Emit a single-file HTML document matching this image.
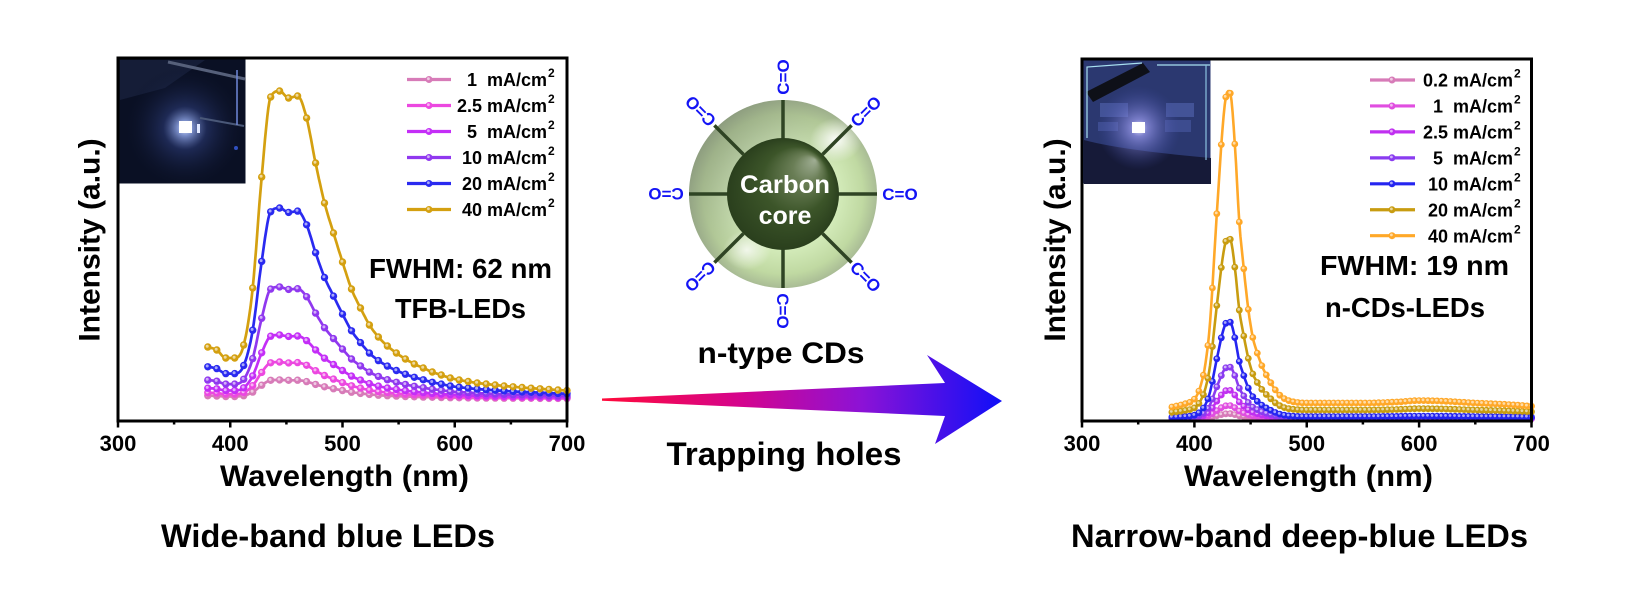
<!DOCTYPE html>
<html><head><meta charset="utf-8">
<style>
html,body{margin:0;padding:0;background:#fff;}
svg{display:block;}
text{font-family:"Liberation Sans",Arial,sans-serif;font-weight:bold;}
.pre{white-space:pre;}
</style></head><body>
<svg id="s" xmlns="http://www.w3.org/2000/svg" width="1627" height="610" viewBox="0 0 1627 610">
<defs>
 <linearGradient id="arr" x1="602" y1="0" x2="1002" y2="0" gradientUnits="userSpaceOnUse">
  <stop offset="0" stop-color="#ff0a3a"/>
  <stop offset="0.35" stop-color="#d4048e"/>
  <stop offset="0.65" stop-color="#8c12d6"/>
  <stop offset="1" stop-color="#0f0ff8"/>
 </linearGradient>
 <radialGradient id="shell" cx="783" cy="194" r="94" gradientUnits="userSpaceOnUse">
  <stop offset="0" stop-color="#dcefc6"/>
  <stop offset="0.6" stop-color="#d2eab8"/>
  <stop offset="0.85" stop-color="#c0d9a2"/>
  <stop offset="1" stop-color="#a9bc95"/>
 </radialGradient>
 <linearGradient id="shade" x1="690" y1="110" x2="800" y2="210" gradientUnits="userSpaceOnUse">
  <stop offset="0" stop-color="#6e7a66" stop-opacity="0.6"/>
  <stop offset="1" stop-color="#6e7a66" stop-opacity="0"/>
 </linearGradient>
 <radialGradient id="hl" cx="0.5" cy="0.5" r="0.5">
  <stop offset="0" stop-color="#ffffff" stop-opacity="0.95"/>
  <stop offset="1" stop-color="#ffffff" stop-opacity="0"/>
 </radialGradient>
 <radialGradient id="core" cx="783" cy="194" r="56" fx="815" fy="160" gradientUnits="userSpaceOnUse">
  <stop offset="0" stop-color="#a0ae94"/>
  <stop offset="0.25" stop-color="#6a7e56"/>
  <stop offset="0.6" stop-color="#3c5529"/>
  <stop offset="1" stop-color="#2a3f1d"/>
 </radialGradient>
 <radialGradient id="lg1" cx="185" cy="128" r="62" gradientUnits="userSpaceOnUse">
  <stop offset="0" stop-color="#e6eeff" stop-opacity="1"/>
  <stop offset="0.12" stop-color="#8ea4e6" stop-opacity="0.85"/>
  <stop offset="0.35" stop-color="#2e3e7c" stop-opacity="0.55"/>
  <stop offset="1" stop-color="#0a1024" stop-opacity="0"/>
 </radialGradient>
 <radialGradient id="lg2" cx="1139" cy="128" r="42" gradientUnits="userSpaceOnUse">
  <stop offset="0" stop-color="#f0f0ff" stop-opacity="1"/>
  <stop offset="0.2" stop-color="#9c9cf0" stop-opacity="0.7"/>
  <stop offset="1" stop-color="#3a46a0" stop-opacity="0"/>
 </radialGradient>
</defs>
<rect x="0" y="0" width="1627" height="610" fill="#fff"/>

<!-- Left photo -->
<rect x="119.5" y="59.5" width="126" height="124" fill="#0a1024"/>
<polygon points="120,60 205,60 165,88 120,100" fill="#1a2440" opacity="0.7"/>
<rect x="119.5" y="59.5" width="126" height="124" fill="url(#lg1)"/>
<line x1="168" y1="62" x2="245" y2="79" stroke="#56607a" stroke-width="3"/>
<line x1="200" y1="118" x2="244" y2="126" stroke="#4a5878" stroke-width="2"/>
<line x1="237" y1="70" x2="237" y2="125" stroke="#7088d8" stroke-width="1.5"/>
<circle cx="236" cy="148" r="2" fill="#3050c0"/>
<rect x="179" y="121" width="13" height="12" fill="#ffffff"/>
<rect x="197" y="124" width="3" height="9" fill="#e0e8ff"/>

<!-- Right photo -->
<rect x="1083.5" y="60.5" width="127" height="123" fill="#2b3870"/>
<rect x="1100" y="103" width="28" height="14" fill="#4e5fa8" opacity="0.7"/>
<rect x="1166" y="103" width="28" height="14" fill="#4e5fa8" opacity="0.7"/>
<rect x="1098" y="122" width="20" height="9" fill="#46569c" opacity="0.7"/>
<rect x="1165" y="120" width="26" height="12" fill="#46569c" opacity="0.7"/>
<path d="M1084,140 Q1120,150 1211,158 L1211,184 L1084,184 Z" fill="#161a38"/>
<polygon points="1086,92 1093,102 1150,72 1143,63" fill="#0e1018"/>
<polyline points="1087,138 1087,67 1142,63" stroke="#a8e0f0" stroke-width="1.2" fill="none"/>
<line x1="1157" y1="65" x2="1210" y2="65" stroke="#a8e0f0" stroke-width="1.2"/>
<line x1="1206" y1="65" x2="1206" y2="160" stroke="#8cc0e0" stroke-width="1.2"/>
<rect x="1083.5" y="60.5" width="127" height="123" fill="url(#lg2)"/>
<rect x="1132" y="122" width="13" height="11" fill="#ffffff"/>

<g id="curves"></g>

<!-- Axes frames -->
<rect x="118" y="58" width="449" height="363" fill="none" stroke="#000" stroke-width="3"/>
<rect x="1082" y="59" width="449.5" height="362" fill="none" stroke="#000" stroke-width="3"/>
<g stroke="#000" stroke-width="2.5">
 <line x1="118" y1="421" x2="118" y2="427.5"/>
 <line x1="174.1" y1="421" x2="174.1" y2="424.5"/>
 <line x1="230.25" y1="421" x2="230.25" y2="427.5"/>
 <line x1="286.4" y1="421" x2="286.4" y2="424.5"/>
 <line x1="342.5" y1="421" x2="342.5" y2="427.5"/>
 <line x1="398.6" y1="421" x2="398.6" y2="424.5"/>
 <line x1="454.75" y1="421" x2="454.75" y2="427.5"/>
 <line x1="510.9" y1="421" x2="510.9" y2="424.5"/>
 <line x1="567" y1="421" x2="567" y2="427.5"/>
 <line x1="1082" y1="421" x2="1082" y2="427.5"/>
 <line x1="1138.2" y1="421" x2="1138.2" y2="424.5"/>
 <line x1="1194.4" y1="421" x2="1194.4" y2="427.5"/>
 <line x1="1250.6" y1="421" x2="1250.6" y2="424.5"/>
 <line x1="1306.75" y1="421" x2="1306.75" y2="427.5"/>
 <line x1="1362.9" y1="421" x2="1362.9" y2="424.5"/>
 <line x1="1419.1" y1="421" x2="1419.1" y2="427.5"/>
 <line x1="1475.3" y1="421" x2="1475.3" y2="424.5"/>
 <line x1="1531.5" y1="421" x2="1531.5" y2="427.5"/>
</g>
<g font-size="22" text-anchor="middle" fill="#000">
 <text x="118" y="451">300</text>
 <text x="230.25" y="451">400</text>
 <text x="342.5" y="451">500</text>
 <text x="454.75" y="451">600</text>
 <text x="567" y="451">700</text>
 <text x="1082" y="451">300</text>
 <text x="1194.4" y="451">400</text>
 <text x="1306.75" y="451">500</text>
 <text x="1419.1" y="451">600</text>
 <text x="1531.5" y="451">700</text>
</g>
<text x="220" y="486" font-size="30" textLength="249" lengthAdjust="spacingAndGlyphs">Wavelength (nm)</text>
<text x="1184" y="486" font-size="30" textLength="249" lengthAdjust="spacingAndGlyphs">Wavelength (nm)</text>
<text transform="translate(99.5,240) rotate(-90)" text-anchor="middle" font-size="30">Intensity (a.u.)</text>
<text transform="translate(1065,240) rotate(-90)" text-anchor="middle" font-size="30">Intensity (a.u.)</text>

<text x="161" y="547" font-size="32.5" textLength="334" lengthAdjust="spacingAndGlyphs">Wide-band blue LEDs</text>
<text x="1071" y="547" font-size="32.5" textLength="457" lengthAdjust="spacingAndGlyphs">Narrow-band deep-blue LEDs</text>

<text x="369" y="278" font-size="28" textLength="183" lengthAdjust="spacingAndGlyphs">FWHM: 62 nm</text>
<text x="395" y="318" font-size="28" textLength="131" lengthAdjust="spacingAndGlyphs">TFB-LEDs</text>
<text x="1320" y="275" font-size="28" textLength="189" lengthAdjust="spacingAndGlyphs">FWHM: 19 nm</text>
<text x="1325" y="317" font-size="28" textLength="160" lengthAdjust="spacingAndGlyphs">n-CDs-LEDs</text>

<!-- Legends -->
<g id="legends"></g>

<!-- Center: sphere -->
<circle cx="783" cy="194" r="94" fill="url(#shell)"/>
<circle cx="783" cy="194" r="94" fill="url(#shade)"/>
<ellipse cx="836" cy="140" rx="26" ry="22" fill="url(#hl)"/>
<ellipse cx="747" cy="250" rx="24" ry="20" fill="url(#hl)" opacity="0.8"/>
<g stroke="#2f4424" stroke-width="3.5" stroke-linecap="butt">
 <line x1="783" y1="100" x2="783" y2="140"/>
 <line x1="783" y1="248" x2="783" y2="288"/>
 <line x1="689" y1="194" x2="729" y2="194"/>
 <line x1="837" y1="194" x2="877" y2="194"/>
 <line x1="714.4" y1="125.4" x2="743.4" y2="154.4"/>
 <line x1="851.6" y1="125.4" x2="822.6" y2="154.4"/>
 <line x1="714.4" y1="262.6" x2="743.4" y2="233.6"/>
 <line x1="851.6" y1="262.6" x2="822.6" y2="233.6"/>
</g>
<circle cx="783" cy="194" r="56" fill="url(#core)"/>
<text x="785" y="193" font-size="25" fill="#fff" text-anchor="middle" textLength="90" lengthAdjust="spacingAndGlyphs">Carbon</text>
<text x="785" y="224" font-size="25" fill="#fff" text-anchor="middle">core</text>
<g font-size="17" fill="#1414f5" text-anchor="middle">
 <text transform="translate(783,77) rotate(-90)" dy=".36em">C=O</text>
 <text transform="translate(865.7,111.3) rotate(-45)" dy=".36em">C=O</text>
 <text transform="translate(900,194) rotate(0)" dy=".36em">C=O</text>
 <text transform="translate(865.7,276.7) rotate(45)" dy=".36em">C=O</text>
 <text transform="translate(783,311) rotate(90)" dy=".36em">C=O</text>
 <text transform="translate(700.3,276.7) rotate(135)" dy=".36em">C=O</text>
 <text transform="translate(666,194) rotate(180)" dy=".36em">C=O</text>
 <text transform="translate(700.3,111.3) rotate(-135)" dy=".36em">C=O</text>
</g>
<text x="781" y="363" font-size="30" text-anchor="middle" textLength="167" lengthAdjust="spacingAndGlyphs">n-type CDs</text>

<!-- Arrow -->
<polygon points="602,398.5 945,383 927,355 1002,401 935,444 945,416 602,400.7" fill="url(#arr)"/>
<text x="784" y="465" font-size="32" text-anchor="middle" textLength="235" lengthAdjust="spacingAndGlyphs">Trapping holes</text>
</svg>

<script>
(function(){
function mono(xs,ys){
 var n=xs.length,d=[],m=new Array(n),i;
 for(i=0;i<n-1;i++)d.push((ys[i+1]-ys[i])/(xs[i+1]-xs[i]));
 m[0]=d[0];m[n-1]=d[n-2];
 for(i=1;i<n-1;i++){m[i]=(d[i-1]*d[i]<=0)?0:(d[i-1]+d[i])/2;}
 for(i=0;i<n-1;i++){
  if(d[i]===0){m[i]=0;m[i+1]=0;continue;}
  var a=m[i]/d[i],b=m[i+1]/d[i],s=a*a+b*b;
  if(s>9){var t=3/Math.sqrt(s);m[i]=t*a*d[i];m[i+1]=t*b*d[i];}
 }
 return function(x){
  if(x<=xs[0])return ys[0]; if(x>=xs[n-1])return ys[n-1];
  var k=0; while(x>xs[k+1])k++;
  var h=xs[k+1]-xs[k],t=(x-xs[k])/h,t2=t*t,t3=t2*t;
  return (2*t3-3*t2+1)*ys[k]+(t3-2*t2+t)*h*m[k]+(-2*t3+3*t2)*ys[k+1]+(t3-t2)*h*m[k+1];
 };
}
var html='';
function marker(x,y,c,r){
 return '<circle cx="'+x.toFixed(1)+'" cy="'+y.toFixed(1)+'" r="'+r+'" fill="'+c+'"/>'+
  '<circle cx="'+(x-0.6).toFixed(1)+'" cy="'+(y-0.8).toFixed(1)+'" r="'+(r*0.4).toFixed(1)+'" fill="#fff" fill-opacity="0.6"/>';
}
// Left plot
var gy=[380,388,396,404,412,420,428,436,444,452,460,468,476,484,492,500,508,516,524,532,540,548,556,564,572,580,588,596,604,612,620,628,636,644,652,660,668,676,684,692,700];
var gv=[347,350,358,358,345,288,177,97,91,98,96,118,163,203,233,262,289,308,325,337,346,353,359,364,368,372,375,378,380,381.5,383,384,385,386,386.8,387.5,388.2,388.8,389.4,390,390.5];
var G=mono(gy,gv);
var L=[['#d77bb8',0.062],['#ec48e0',0.12],['#c42ef7',0.208],['#9038ef',0.364],['#2a2af0',0.62],['#d4a010',1]];
function lx(l){return 118+(l-300)*1.1225;}
L.forEach(function(c){
 var pts=[];
 for(var l=380;l<=700;l+=1){var y=399-c[1]*(399-G(l));pts.push(lx(l).toFixed(1)+','+y.toFixed(1));}
 html+='<path d="M'+pts.join('L')+'" stroke="'+c[0]+'" stroke-width="2.7" fill="none" stroke-linejoin="round"/>';
 for(var l2=380;l2<=700;l2+=8){var y2=399-c[1]*(399-G(l2));html+=marker(lx(l2),y2,c[0],3.7);}
});
// Right plot
var P=mono([380,392,400,405,410,414,418,422,426,429,431,433,436,440,444,448,452,456,460,464,468,472,476,480,488,500,700],
 [0,0.004,0.015,0.05,0.13,0.26,0.49,0.72,0.92,0.995,1.0,0.97,0.83,0.58,0.43,0.30,0.21,0.16,0.12,0.09,0.065,0.042,0.025,0.014,0.004,0,0]);
var B=mono([380,400,420,480,550,580,600,620,650,680,700],[0.75,0.95,1.0,1.0,1.0,1.06,1.15,1.12,1.0,0.9,0.8]);
var R=[['#d77bb8',5,0.3],['#e04ee0',13,0.5],['#c030f0',28,0.8],['#8a3cf0',51,1.2],['#2525f0',95,2.5],['#c89c10',172,9],['#ffa828',312,16]];
function rx(l){return 1082+(l-300)*1.12375;}
function ry(c,l){var p=Math.max(0,P(l));return 419-c[1]*p-c[2]*B(l);}
R.forEach(function(c){
 var pts=[];
 for(var l=380;l<=700;l+=1){pts.push(rx(l).toFixed(1)+','+ry(c,l).toFixed(1));}
 html+='<path d="M'+pts.join('L')+'" stroke="'+c[0]+'" stroke-width="2.6" fill="none" stroke-linejoin="round"/>';
 for(var l2=380;l2<=700;l2+=4){html+=marker(rx(l2),ry(c,l2),c[0],3.4);}
});
document.getElementById('curves').innerHTML=html;

// Legends
var lg='';
var lt=['1  mA/cm','2.5 mA/cm','5  mA/cm','10 mA/cm','20 mA/cm','40 mA/cm'];
L.forEach(function(c,i){
 var y=79.5+26*i;
 lg+='<line x1="407" y1="'+y+'" x2="451" y2="'+y+'" stroke="'+c[0]+'" stroke-width="3.2"/>'+marker(429,y,c[0],3.5);
 lg+='<text class="pre" x="547" y="'+(y+6.7)+'" font-size="18" text-anchor="end">'+lt[i]+'</text>';
 lg+='<text x="548" y="'+(y-2.3)+'" font-size="12">2</text>';
});
var rt=['0.2 mA/cm','1  mA/cm','2.5 mA/cm','5  mA/cm','10 mA/cm','20 mA/cm','40 mA/cm'];
R.forEach(function(c,i){
 var y=80+25.95*i;
 lg+='<line x1="1370" y1="'+y+'" x2="1415" y2="'+y+'" stroke="'+c[0]+'" stroke-width="3.2"/>'+marker(1392,y,c[0],3.5);
 lg+='<text class="pre" x="1513" y="'+(y+6.7)+'" font-size="18" text-anchor="end">'+rt[i]+'</text>';
 lg+='<text x="1514" y="'+(y-2.3)+'" font-size="12">2</text>';
});
document.getElementById('legends').innerHTML=lg;
})();
</script>
</body></html>
